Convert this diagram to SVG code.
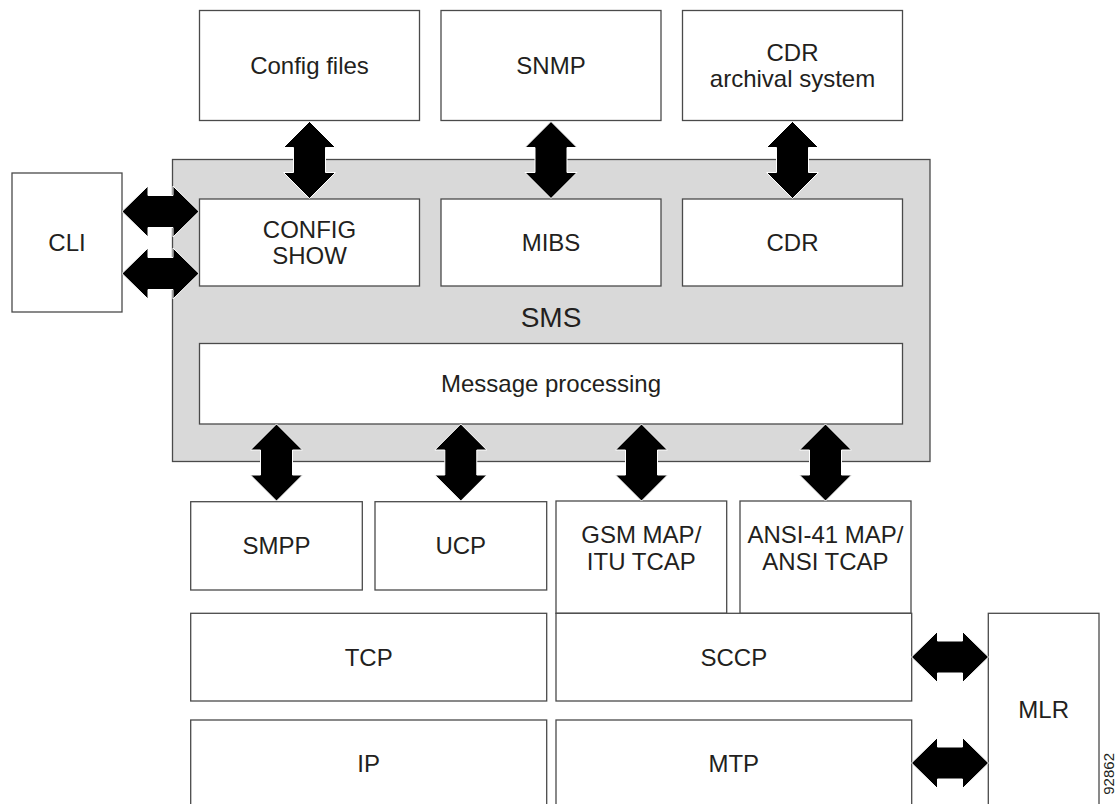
<svg xmlns="http://www.w3.org/2000/svg" width="1116" height="804" viewBox="0 0 1116 804">
<style>
.box{fill:#fff;stroke:#4a4a4a;stroke-width:1.3}
.sms{fill:#d9d9d9;stroke:#4a4a4a;stroke-width:1.3}
.t{font-family:"Liberation Sans",Arial,sans-serif;font-size:24px;fill:#231f20;text-anchor:middle}
.big{font-size:28px}
.arr{fill:#000;stroke:#fff;stroke-width:1}
.fig{font-family:"Liberation Sans",Arial,sans-serif;font-size:15px;fill:#231f20}
</style>
<defs>
<path id="va" d="M0,0 L26,26 L16,26 L16,51 L26,51 L0,77 L-26,51 L-16,51 L-16,26 L-26,26 Z"/>
<path id="ha" d="M0,0 L26,-25.5 L26,-16 L51,-16 L51,-25.5 L77,0 L51,25.5 L51,16 L26,16 L26,25.5 Z"/>
</defs>
<rect width="1116" height="804" fill="#fff"/>
<g id="sms">
<rect class="sms" x="172.5" y="159.5" width="757.5" height="302"/>
<text class="t big" x="551" y="327">SMS</text>
</g>
<g id="config-files"><rect class="box" x="199.5" y="10.5" width="220" height="110"/><text class="t" x="309.5" y="74">Config files</text></g>
<g id="snmp"><rect class="box" x="441" y="10.5" width="220" height="110"/><text class="t" x="551" y="74">SNMP</text></g>
<g id="cdr-archival"><rect class="box" x="682.5" y="10.5" width="220" height="110"/><text class="t" x="792.5" y="61">CDR</text><text class="t" x="792.5" y="87">archival system</text></g>
<g id="config-show"><rect class="box" x="199.5" y="199" width="220" height="87"/><text class="t" x="309.5" y="238">CONFIG</text><text class="t" x="309.5" y="264">SHOW</text></g>
<g id="mibs"><rect class="box" x="441" y="199" width="220" height="87"/><text class="t" x="551" y="251">MIBS</text></g>
<g id="cdr"><rect class="box" x="682.5" y="199" width="220" height="87"/><text class="t" x="792.5" y="251">CDR</text></g>
<g id="message-processing"><rect class="box" x="199.5" y="343.5" width="703" height="80.5"/><text class="t" x="551" y="392">Message processing</text></g>
<g id="cli"><rect class="box" x="12" y="173" width="110" height="139"/><text class="t" x="67" y="251">CLI</text></g>
<g id="smpp"><rect class="box" x="190.7" y="501.7" width="171.6" height="88.3"/><text class="t" x="276.5" y="554">SMPP</text></g>
<g id="ucp"><rect class="box" x="375" y="501.7" width="171.7" height="88.3"/><text class="t" x="460.8" y="554">UCP</text></g>
<g id="gsm-map"><rect class="box" x="556" y="501" width="170.7" height="112.3"/><text class="t" x="641.3" y="543">GSM MAP/</text><text class="t" x="641.3" y="570">ITU TCAP</text></g>
<g id="ansi-map"><rect class="box" x="740" y="501" width="171" height="112.3"/><text class="t" x="825.5" y="543">ANSI-41 MAP/</text><text class="t" x="825.5" y="570">ANSI TCAP</text></g>
<g id="tcp"><rect class="box" x="190.7" y="613.3" width="356" height="87.7"/><text class="t" x="368.7" y="665.5">TCP</text></g>
<g id="sccp"><rect class="box" x="556" y="613.3" width="355.7" height="87.7"/><text class="t" x="733.8" y="665.5">SCCP</text></g>
<g id="ip"><rect class="box" x="190.7" y="720" width="356" height="92"/><text class="t" x="368.7" y="771.5">IP</text></g>
<g id="mtp"><rect class="box" x="556" y="720" width="355.7" height="92"/><text class="t" x="733.8" y="771.5">MTP</text></g>
<g id="mlr"><rect class="box" x="988.3" y="613.3" width="110.7" height="200"/><text class="t" x="1043.7" y="718">MLR</text></g>
<g id="connectors">
<use href="#va" class="arr" x="309.5" y="121.5"/>
<use href="#va" class="arr" x="551" y="121.5"/>
<use href="#va" class="arr" x="792.5" y="121.5"/>
<use href="#va" class="arr" x="276.5" y="424"/>
<use href="#va" class="arr" x="460.8" y="424"/>
<use href="#va" class="arr" x="641.5" y="424"/>
<use href="#va" class="arr" x="825.5" y="424"/>
<use href="#ha" class="arr" x="122" y="211.5"/>
<use href="#ha" class="arr" x="122" y="273.5"/>
<use href="#ha" class="arr" x="911.5" y="657"/>
<use href="#ha" class="arr" x="911.5" y="763"/>
</g>
<text class="fig" transform="translate(1114,753) rotate(-90)" text-anchor="end">92862</text>
</svg>
